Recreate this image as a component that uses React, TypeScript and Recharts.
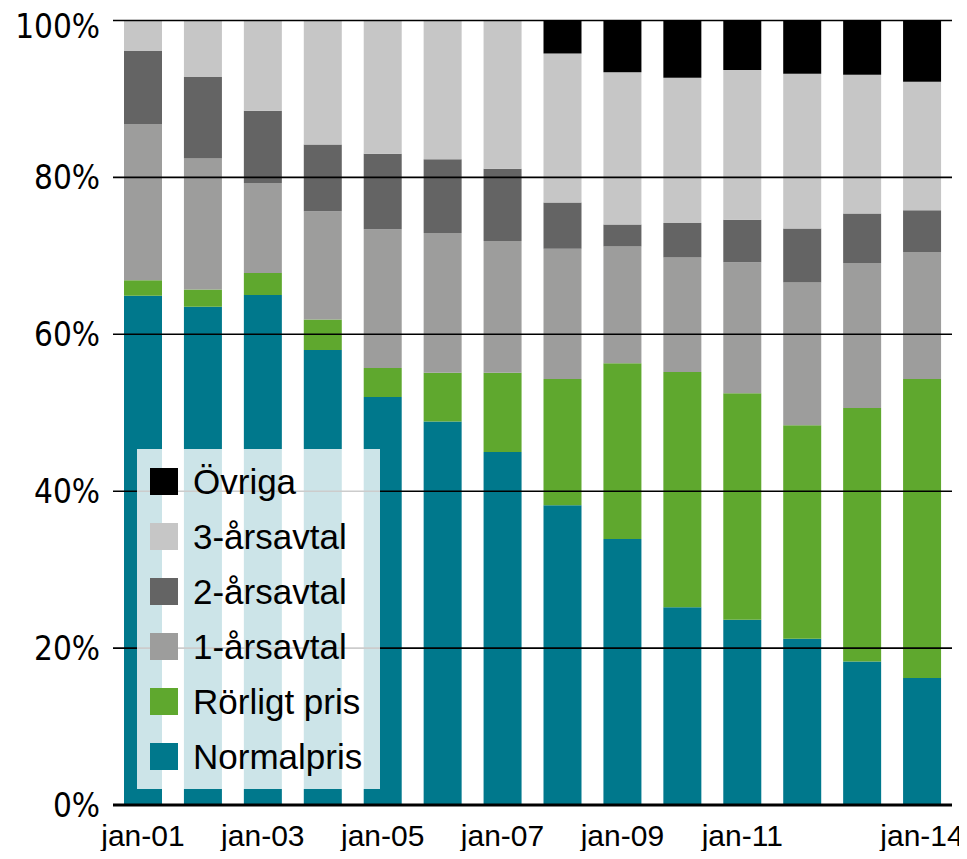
import React from 'react';
import { BarChart, Bar, XAxis, YAxis, ReferenceLine, Legend } from 'recharts';

const categories = ['jan-01','jan-02','jan-03','jan-04','jan-05','jan-06','jan-07','jan-08','jan-09','jan-10','jan-11','jan-12','jan-13','jan-14'];
const shownLabels = ['jan-01','jan-03','jan-05','jan-07','jan-09','jan-11','jan-14'];
const normalpris = [64.9, 63.5, 65.0, 58.0, 52.0, 48.9, 45.0, 38.2, 33.9, 25.2, 23.6, 21.2, 18.3, 16.2];
const rorligt = [2.0, 2.2, 2.8, 3.9, 3.7, 6.2, 10.1, 16.1, 22.4, 30.0, 28.9, 27.2, 32.3, 38.1];
const ettars = [19.9, 16.7, 11.5, 13.8, 17.7, 17.8, 16.8, 16.6, 14.9, 14.6, 16.7, 18.2, 18.5, 16.2];
const tvaars = [9.3, 10.4, 9.2, 8.5, 9.6, 9.4, 9.2, 5.9, 2.8, 4.4, 5.4, 6.9, 6.3, 5.3];
const treaars = [3.9, 7.2, 11.5, 15.8, 17.0, 17.7, 18.9, 19.0, 19.4, 18.5, 19.1, 19.7, 17.7, 16.4];
const ovriga = [0, 0, 0, 0, 0, 0, 0, 4.2, 6.6, 7.3, 6.3, 6.8, 6.9, 7.8];
const yTicks = [0, 20, 40, 60, 80, 100];

const series = [
  { key: 'normal', name: 'Normalpris', color: '#00788c' },
  { key: 'rorligt', name: 'Rörligt pris', color: '#5fa82e' },
  { key: 'ett', name: '1-årsavtal', color: '#9d9d9c' },
  { key: 'tva', name: '2-årsavtal', color: '#646464' },
  { key: 'tre', name: '3-årsavtal', color: '#c6c6c6' },
  { key: 'ovriga', name: 'Övriga', color: '#000000' },
];
const legendOrder = ['Övriga', '3-årsavtal', '2-årsavtal', '1-årsavtal', 'Rörligt pris', 'Normalpris'];

const data = categories.map((c, i) => ({
  cat: c,
  normal: normalpris[i],
  rorligt: rorligt[i],
  ett: ettars[i],
  tva: tvaars[i],
  tre: treaars[i],
  ovriga: ovriga[i],
}));

const FONT = '"Liberation Sans", Arial, sans-serif';

const renderLegend = (props: any) => {
  const items = [...(props.payload || [])].sort(
    (a: any, b: any) => legendOrder.indexOf(a.value) - legendOrder.indexOf(b.value)
  );
  return (
    <div
      style={{
        width: 243,
        height: 340,
        background: 'rgba(255,255,255,0.8)',
        boxSizing: 'border-box',
        paddingTop: 5,
        fontFamily: FONT,
      }}
    >
      {items.map((it: any) => (
        <div key={it.value} style={{ height: 55, display: 'flex', alignItems: 'center', position: 'relative' }}>
          <div style={{ position: 'absolute', left: 13, width: 28, height: 27, background: it.color }} />
          <div style={{ position: 'absolute', left: 56, fontSize: 35, color: '#000', lineHeight: '40px', whiteSpace: 'nowrap' }}>
            {it.value}
          </div>
        </div>
      ))}
    </div>
  );
};

export default function App() {
  return (
    <div style={{ position: 'relative', width: 959, height: 843 }}>
      <style>{'html { overflow: hidden; }'}</style>
      <BarChart
        width={959}
        height={843}
        data={data}
        margin={{ top: 12.5, right: 15, left: 0, bottom: 0 }}
        barSize={38}
        style={{ overflow: 'visible' }}
      >
        <XAxis
          dataKey="cat"
          interval={0}
          height={46}
          axisLine={false}
          tickLine={false}
          tickSize={0}
          tickMargin={20}
          tick={{ fill: '#000', fontSize: 30, fontFamily: FONT }}
          tickFormatter={(v: string) => (shownLabels.includes(v) ? v : '')}
        />
        <YAxis
          width={105}
          domain={[0, 100]}
          ticks={yTicks}
          axisLine={false}
          tickLine={false}
          tickSize={0}
          tickMargin={13}
          tick={{ fill: '#000', fontSize: 33, fontFamily: '"DejaVu Sans Condensed", "DejaVu Sans", sans-serif' }}
          tickFormatter={(v: number) => `${v}%`}
        />
        {series.map((s) => (
          <Bar key={s.key} dataKey={s.key} name={s.name} stackId="a" fill={s.color} isAnimationActive={false} />
        ))}
        {yTicks.filter((t) => t > 0).map((t) => (
          <ReferenceLine key={t} y={t} stroke="#000" strokeWidth={1.6} />
        ))}
        <ReferenceLine y={0} stroke="#000" strokeWidth={3.2} />
        <Legend
          layout="horizontal"
          verticalAlign="middle"
          align="center"
          content={renderLegend}
          wrapperStyle={{ position: 'absolute', left: 129, top: 441, width: 243, height: 340 }}
        />
      </BarChart>
    </div>
  );
}
